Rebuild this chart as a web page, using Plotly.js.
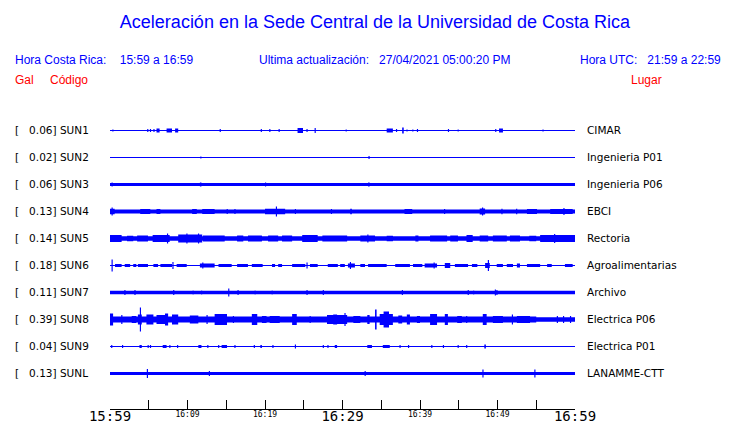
<!DOCTYPE html>
<html><head><meta charset="utf-8">
<script src="https://cdn.plot.ly/plotly-3.0.1.min.js"></script>
<style>html,body{margin:0;padding:0;background:#fff}#chart{width:740px;height:423px}</style>
</head><body><div id="chart"></div>
<script>
// ---- station meta ----
const codes = ['SUN1','SUN2','SUN3','SUN4','SUN5','SUN6','SUN7','SUN8','SUN9','SUNL'];
const galPeaks = ['0.06','0.02','0.06','0.13','0.14','0.18','0.11','0.39','0.04','0.13'];
const places = ['CIMAR','Ingenieria P01','Ingenieria P06','EBCI','Rectoria','Agroalimentarias','Archivo','Electrica P06','Electrica P01','LANAMME-CTT'];
// minutes after 15:59
const tickMinutes = [0,5,10,15,20,25,30,35,40,45,50,55,60];
const bigTickLabels = ['15:59','','','','','','16:29','','','','','','16:59'];
const smallTickMinutes = [10,20,40,50];
const smallTickLabels = ['16:09','16:19','16:39','16:49'];

// ---- trace envelopes: background half-amplitude + bursts [start min, end min, half-amplitude] ----
const baseAmp = [0.5,0.5,1.5,2,2.2,0.5,1.7,3,0.5,1.6];
const sun1Bursts = [[0.3,0.45,1],[4.8,4.95,1.5],[5.15,5.3,1.5],[5.6,5.75,1.5],[6.0,6.4,2],[7.3,8.0,2],[8.4,8.8,2],[14.15,14.3,1.5],[19.45,19.6,1.5],[20.55,20.7,1.5],[21.75,21.9,1.5],[24.2,24.9,2.5],[25.35,25.5,1.5],[26.4,26.55,2.5],[30.4,30.55,1],[35.7,36.5,2],[36.9,37.05,1.5],[37.7,37.9,3],[38.25,38.4,1],[39.0,39.15,1],[39.6,39.75,1.5],[43.6,43.75,1.5],[44.85,45.0,1],[49.7,49.85,1.5],[50.2,50.7,2],[55.8,55.95,1]];
const sun2Bursts = [[11.65,11.8,1],[33.35,33.5,1.5]];
const sun3Bursts = [[0.2,0.35,2],[11.6,11.8,2],[20.0,20.15,2],[33.3,33.5,2]];
const sun4Bursts = [[0,0.6,2.8],[0.2,0.35,4],[3.9,5.2,2.6],[6.0,6.5,2.6],[10.6,11.2,2.5],[11.9,13.5,2.6],[15.05,15.2,2.5],[16.05,16.2,2.5],[20.0,22.6,2.7],[21.4,21.55,5],[23.85,24.0,2.5],[28.5,28.65,2.5],[31.0,31.2,2.8],[38.0,39.0,2.5],[43.1,43.25,2.5],[47.7,48.4,3],[48.0,48.15,4],[50.5,50.65,2.8],[52.4,52.55,2.8],[53.8,55.1,2.5],[56.8,59.7,2.6],[58.5,58.65,3.5]];
const sun5Bursts = [[0,1.5,3.5],[2.2,3.0,2.8],[3.5,4.9,3],[5.5,7.7,3.5],[7.35,7.5,5],[8.8,11.9,4],[9.85,10.0,5],[11.35,11.5,5],[12.0,14.8,3],[16.4,17.2,3],[17.8,19.6,3],[20.4,21.7,3],[22.2,23.5,3],[24.8,26.8,3.5],[27.4,30.6,3],[32.3,34.2,3],[33.2,33.35,4],[35.7,36.5,2.8],[39.4,39.8,3],[41.3,43.5,3],[43.9,44.9,3],[46.0,46.8,3.5],[47.7,48.8,3],[49.4,51.2,3],[51.6,52.9,3],[54.1,55.0,2.8],[55.5,60,3.5],[57.3,57.45,4.5]];
const sun6Bursts = [[0.2,0.35,6],[0.65,1.5,1.5],[1.9,2.6,1.5],[3.0,3.4,1.5],[3.6,4.9,1.5],[5.6,6.2,1.5],[6.5,8.0,1.5],[8.05,8.2,3.5],[8.6,9.9,1.5],[11.6,13.5,2],[11.9,12.05,3],[14.0,15.7,1.5],[16.4,17.8,1.5],[18.3,19.7,1.5],[20.9,21.3,1.5],[21.7,22.2,1.5],[23.5,25.2,1.5],[25.35,25.5,3],[25.8,26.8,1.5],[28.1,29.4,1.5],[29.7,30.3,1.5],[30.7,31.6,2],[30.95,31.1,3.5],[32.3,32.9,1.5],[33.3,35.7,1.5],[36.8,38.7,1.5],[39.1,40.3,1.5],[40.6,42.2,2],[41.75,41.9,3],[43.2,43.9,2.5],[44.5,46.2,1.5],[46.7,47.4,1.5],[48.4,49.0,2.5],[48.75,48.9,5.5],[49.9,50.7,1.5],[51.2,52.0,1.5],[52.5,52.9,2],[53.8,55.5,1.5],[56.4,57.0,1.5],[58.7,59.7,1.5]];
const sun7Bursts = [[1.85,2.0,2.5],[3.15,3.3,2.5],[8.15,8.3,2.5],[10.65,10.8,2],[11.75,11.9,2],[15.25,15.4,4],[16.45,16.6,2.5],[18.65,18.8,2],[20.85,21.0,2],[25.35,25.5,2.5],[27.45,27.6,2.5],[37.65,37.8,2.5],[46.15,46.3,2.5],[46.85,47.0,2],[49.65,49.8,3],[49.85,50.0,2.5]];
const sun8Bursts = [[0,0.4,6],[1.45,1.6,4.5],[2.8,3.4,3.5],[3.6,4.1,5],[3.85,4.0,12],[4.7,5.6,5],[6.0,7.3,4.5],[7.1,7.5,6],[8.0,8.8,5],[10.3,11.4,4],[12.45,12.6,4.5],[13.5,15.1,5.5],[15.85,16.0,3.5],[18.3,19.0,5.5],[19.6,20.2,3.5],[20.6,21.9,3.5],[23.5,24.1,5.5],[25.75,25.9,3.5],[28.0,30.6,4.5],[28.8,29.3,5],[30.25,30.4,6.5],[31.4,32.3,3.5],[33.2,33.5,4.5],[34.2,34.4,10],[34.8,36.5,5.5],[35.3,36.0,8],[37.2,37.7,4],[38.3,38.7,5],[39.6,40.0,3.5],[41.3,42.2,5.5],[43.2,43.6,5.5],[44.8,45.4,3.5],[45.95,46.1,3.5],[48.1,48.6,5.5],[49.4,50.7,3.5],[51.85,52.0,5],[52.5,54.2,3.5],[57.65,57.8,3.5],[58.45,58.6,3.5],[59.35,59.5,3.5]];
const sun8Quiet = [55.0,60,2.2];
const sun9Bursts = [[0.15,0.3,1.5],[1.55,1.7,1.5],[3.8,4.1,1.5],[4.85,5.0,1.5],[5.15,5.3,1.5],[6.8,7.3,1.5],[7.65,7.8,1.5],[8.65,8.8,1.5],[11.4,11.8,1.5],[12.55,12.7,1.5],[13.95,14.1,1.5],[14.4,15.1,1.5],[16.05,16.2,1.5],[18.55,18.7,1.5],[19.4,19.6,1.5],[20.95,21.1,1.5],[23.85,24.0,2],[27.45,27.6,1.5],[28.05,28.2,1.5],[29.0,29.3,1.5],[33.2,33.8,1.5],[35.2,36.1,1.5],[37.35,37.5,1.5],[38.45,38.6,1.5],[41.45,41.6,1.5],[42.95,43.1,1.5],[44.85,45.0,1.5],[45.95,46.1,1.5],[48.3,48.5,2]];
const sunLBursts = [[4.75,4.9,4.5],[12.75,12.9,2.5],[32.85,33.0,2.5],[48.05,48.2,4],[54.75,54.9,4]];
const burstLists = [sun1Bursts,sun2Bursts,sun3Bursts,sun4Bursts,sun5Bursts,sun6Bursts,sun7Bursts,sun8Bursts,sun9Bursts,sunLBursts];

// ---- geometry (y data units = pixels) ----
const PLOT_L = 110, PLOT_R = 575, PLOT_T = 116, PLOT_B = 409;
const W = 740, H = 423;
const rowTop = 278.5, rowGap = 27;
const blue = '#0000ff';

const step = 0.05;
const tGrid = [];
for (let k = 0; k <= 1200; k++) tGrid.push(+(k*step).toFixed(2));

const traces = [];
codes.forEach((code, i) => {
  const c = rowTop - rowGap*i;
  const bursts = burstLists[i];
  const amp = tGrid.map(t => {
    let a = baseAmp[i];
    if (i === 7 && t >= sun8Quiet[0] && t <= sun8Quiet[1]) a = sun8Quiet[2];
    for (const b of bursts) if (t >= b[0] && t < b[1]) a = Math.max(a, b[2]);
    return a;
  });
  traces.push({x: tGrid, y: amp.map(a => c - a), mode: 'lines', line: {width: 0, shape: 'hv', color: blue}, hoverinfo: 'skip', showlegend: false});
  traces.push({x: tGrid, y: amp.map(a => c + a), mode: 'lines', fill: 'tonexty', fillcolor: blue, line: {width: 0, shape: 'hv', color: blue}, hoverinfo: 'skip', showlegend: false});
});

const px2x = px => (px - PLOT_L)/(PLOT_R - PLOT_L);
const py2y = py => (PLOT_B - py)/(PLOT_B - PLOT_T);
const nb = n => '\u00a0'.repeat(n);

const annotations = [];
const labFont = {family: 'DejaVu Sans', size: 10.5, color: '#000'};
codes.forEach((code, i) => {
  const py = 130 + rowGap*i;
  annotations.push({xref: 'paper', yref: 'paper', x: px2x(14), y: py2y(py), xanchor: 'left', yanchor: 'middle', showarrow: false, borderpad: 0, text: '[' + nb(3) + galPeaks[i] + '] ' + code, font: labFont});
  annotations.push({xref: 'paper', yref: 'paper', x: px2x(586), y: py2y(py), xanchor: 'left', yanchor: 'middle', showarrow: false, borderpad: 0, text: places[i], font: labFont});
});
const hFont = {family: 'Liberation Sans, Arial', size: 12, color: blue};
const rFont = {family: 'Liberation Sans, Arial', size: 12, color: '#ff0000'};
const header = [
  [14, 60, 'Hora Costa Rica:' + nb(4) + '15:59 a 16:59', hFont],
  [258, 60, 'Ultima actualización:' + nb(3) + '27/04/2021 05:00:20 PM', hFont],
  [579, 60, 'Hora UTC:' + nb(3) + '21:59 a 22:59', hFont],
  [14, 80, 'Gal', rFont],
  [49, 80, 'Código', rFont],
  [630, 80, 'Lugar', rFont]
];
header.forEach(h => annotations.push({xref: 'paper', yref: 'paper', x: px2x(h[0]), y: py2y(h[1]), xanchor: 'left', yanchor: 'middle', showarrow: false, borderpad: 0, text: h[2], font: h[3]}));

const layout = {
  width: W, height: H,
  margin: {l: PLOT_L, r: W - PLOT_R, t: PLOT_T, b: H - PLOT_B, pad: 0},
  paper_bgcolor: '#fff', plot_bgcolor: '#fff',
  title: {text: 'Aceleración en la Sede Central de la Universidad de Costa Rica', xref: 'container', yref: 'container', x: 375/W, y: 1 - 22/H, xanchor: 'center', yanchor: 'middle', font: {family: 'Liberation Sans, Arial', size: 18, color: blue}},
  xaxis: {range: [0, 60], showgrid: false, zeroline: false, showline: true, linecolor: '#000', linewidth: 1, ticks: 'inside', ticklen: 9, tickwidth: 1, tickcolor: '#000', tickvals: tickMinutes, ticktext: bigTickLabels, ticklabelstandoff: -6, tickfont: {family: 'DejaVu Sans Mono', size: 14, color: '#000'}, fixedrange: true},
  xaxis2: {range: [0, 60], overlaying: 'x', anchor: 'y', side: 'bottom', showgrid: false, zeroline: false, showline: false, ticks: '', tickvals: smallTickMinutes, ticktext: smallTickLabels, ticklabelstandoff: -1, tickfont: {family: 'DejaVu Sans Mono', size: 8, color: '#000'}, fixedrange: true},
  yaxis: {range: [0, PLOT_B - PLOT_T], visible: false, fixedrange: true},
  annotations: annotations,
  showlegend: false
};
traces.push({x: [0], y: [-10], xaxis: 'x2', mode: 'markers', marker: {size: 0, opacity: 0}, hoverinfo: 'skip', showlegend: false});
Plotly.newPlot('chart', traces, layout, {staticPlot: true, displayModeBar: false});
</script></body></html>
